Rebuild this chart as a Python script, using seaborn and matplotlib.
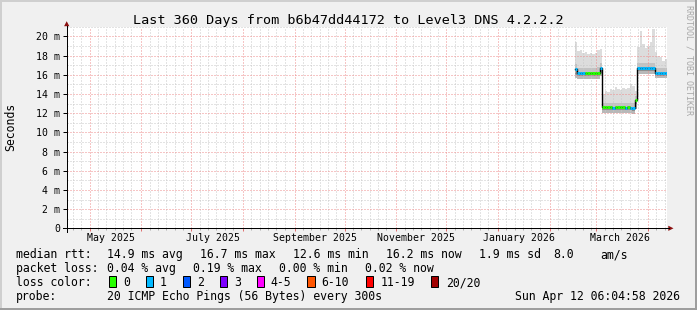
import matplotlib
matplotlib.use("Agg")
import matplotlib.pyplot as plt
from matplotlib.patches import Rectangle, Polygon
import seaborn as sns
import pandas as pd

W, H, DPI = 697, 310, 100
plt.rcParams['font.family'] = ['DejaVu Sans Mono', 'DejaVu Sans']

# ---------------- data ----------------
range_start = "2025-04-17 06:04:58"
range_end = "2026-04-12 06:04:58"
sample_start = "2026-02-16 00:00"
sample_step = "36h"

median_rtt = [16.6, 16.15, 16.15, 16.15, 16.2, 16.2, 16.2, 16.2, 16.2, 16.2, 16.7,
              12.6, 12.6, 12.6, 12.6, 12.55, 12.6, 12.6, 12.6, 12.6, 12.55, 12.6, 12.55, 12.5,
              13.4,
              16.7, 16.7, 16.7, 16.7, 16.7, 16.7, 16.7,
              16.2, 16.2, 16.2, 16.15, 16.15]
loss_count = [1, 1, 1, 1, 0, 0, 0, 0, 0, 0, 1,
              0, 0, 0, 0, 1, 0, 0, 0, 0, 1, 0, 1, 1,
              0,
              1, 1, 1, 1, 1, 1, 1,
              1, 1, 1, 1, 1]
smoke_top = [19.4, 18.5, 18.6, 18.3, 18.4, 18.2, 18.3, 18.2, 18.3, 18.6, 18.7,
             14.0, 14.3, 14.2, 14.5, 14.4, 14.7, 14.5, 14.4, 14.6, 14.5, 14.6, 15.0, 14.8,
             14.3,
             18.9, 20.5, 19.2, 18.8, 19.0, 19.4, 20.8,
             18.4, 18.0, 17.8, 17.4, 17.6]
smoke_hi = [17.1, 16.7, 16.7, 16.7, 16.75, 16.75, 16.75, 16.75, 16.75, 16.8, 17.2,
            13.1, 13.1, 13.1, 13.1, 13.1, 13.1, 13.1, 13.1, 13.1, 13.1, 13.1, 13.1, 13.1,
            13.8,
            17.2, 17.2, 17.2, 17.2, 17.2, 17.2, 17.2,
            16.7, 16.7, 16.7, 16.65, 16.65]
smoke_lo = [16.0, 15.85, 15.85, 15.85, 15.9, 15.9, 15.9, 15.9, 15.9, 15.9, 16.2,
            12.3, 12.3, 12.3, 12.3, 12.3, 12.3, 12.3, 12.3, 12.3, 12.3, 12.3, 12.3, 12.25,
            12.9,
            16.4, 16.4, 16.4, 16.4, 16.4, 16.4, 16.4,
            15.9, 15.9, 15.9, 15.85, 15.85]
smoke_bottom = [15.7, 15.55, 15.55, 15.55, 15.6, 15.6, 15.6, 15.6, 15.6, 15.6, 15.9,
                12.0, 12.0, 12.0, 12.0, 12.0, 12.0, 12.0, 12.0, 12.0, 12.0, 12.0, 12.0, 11.95,
                12.4,
                16.1, 16.1, 16.1, 16.1, 16.1, 16.1, 16.1,
                15.7, 15.7, 15.7, 15.65, 15.65]

y_ticks = [0, 2, 4, 6, 8, 10, 12, 14, 16, 18, 20]
y_tick_labels = ["0", "2 m", "4 m", "6 m", "8 m", "10 m", "12 m", "14 m", "16 m", "18 m", "20 m"]
y_minor = [1, 3, 5, 7, 9, 11, 13, 15, 17, 19, 21]
x_labels = ["May 2025", "July 2025", "September 2025", "November 2025", "January 2026", "March 2026"]
x_label_dates = ["2025-05-14 00:00", "2025-07-14 00:00", "2025-09-13 12:00",
                 "2025-11-13 00:00", "2026-01-13 12:00", "2026-03-15 12:00"]
minor_days = [6, 11, 16, 21, 26]

loss_labels = ["0", "1", "2", "3", "4-5", "6-10", "11-19", "20/20"]
loss_colors = ["#26ff00", "#00b8ff", "#0059ff", "#7e00ff", "#ff00ff", "#ff5500", "#ff0000", "#a10000"]

title = "Last 360 Days from b6b47dd44172 to Level3 DNS 4.2.2.2"
rtt_items = ["median rtt:", "14.9 ms avg", "16.7 ms max", "12.6 ms min", "16.2 ms now",
             "1.9 ms sd", "8.0", "am/s"]
loss_items = ["packet loss:", "0.04 % avg", "0.19 % max", "0.00 % min", "0.02 % now"]
probe_items = ["probe:", "20 ICMP Echo Pings (56 Bytes) every 300s"]
stamp = "Sun Apr 12 06:04:58 2026"
watermark = "RRDTOOL / TOBI OETIKER"

# ---------------- layout helpers (pixels) ----------------
def fx(px):
    return px / W

def fy(py):
    return 1 - py / H

PX = 0.72  # one pixel in points
X0, X1, Y0, Y1 = 66.7, 666.7, 228.3, 26.7

fig = plt.figure(figsize=(W / DPI, H / DPI), dpi=DPI)
fig.patch.set_facecolor("#f0f0f0")
ax = fig.add_axes([fx(X0), fy(Y0), (X1 - X0) / W, (Y0 - Y1) / H])
ax.set_facecolor("white")
for s in ax.spines.values():
    s.set_visible(False)

t_start = pd.Timestamp(range_start)
t_end = pd.Timestamp(range_end)
ax.set_xlim(t_start, t_end)
ax.set_ylim(0, 21)

# ---------------- grid ----------------
dot = (0, (1, 2))
months = pd.date_range("2025-05-01", "2026-04-01", freq="MS")
minor_dates = []
for m in pd.date_range("2025-04-01", "2026-04-01", freq="MS"):
    for d in minor_days:
        t = m + pd.Timedelta(days=d - 1)
        if t_start < t < t_end:
            minor_dates.append(t)
for v in y_minor:
    ax.axhline(v, color="#c8c8c8", lw=PX, ls=dot, zorder=1.5)
for t in minor_dates:
    ax.axvline(t, color="#c8c8c8", lw=PX, ls=dot, zorder=1.5)
for v in y_ticks[1:]:
    ax.axhline(v, color="#ee8c8c", lw=PX, ls=dot, zorder=1.6)
for t in months:
    ax.axvline(t, color="#ee8c8c", lw=PX, ls=dot, zorder=1.6)

# ---------------- smoke ----------------
times = pd.date_range(sample_start, periods=len(median_rtt), freq=sample_step)
t_ext = list(times) + [t_end]

def ext(a):
    return list(a) + [a[-1]]

ax.fill_between(t_ext, ext(smoke_hi), ext(smoke_top), step="post", color="#dcdcdc", lw=0, zorder=1)
ax.fill_between(t_ext, ext(median_rtt), ext(smoke_hi), step="post", color="#c2c2c2", lw=0, zorder=1)
ax.fill_between(t_ext, ext(smoke_lo), ext(median_rtt), step="post", color="#8e8e8e", lw=0, zorder=1)
ax.fill_between(t_ext, ext(smoke_bottom), ext(smoke_lo), step="post", color="#b8b8b8", lw=0, zorder=1)

# ---------------- median line ----------------
df = pd.DataFrame({"time": t_ext, "median": ext(median_rtt)})
sns.lineplot(data=df, x="time", y="median", drawstyle="steps-post", color="black",
             lw=1.0, estimator=None, ax=ax, zorder=3)
for i in range(len(median_rtt)):
    ax.hlines(median_rtt[i], t_ext[i], t_ext[i + 1], colors=loss_colors[loss_count[i]],
              lw=3 * PX, zorder=4, capstyle="butt")
ax.set_xlabel("")
ax.set_ylabel("")

# ---------------- ticks ----------------
ax.set_yticks(y_ticks)
ax.set_yticklabels(y_tick_labels)
ax.tick_params(axis="y", which="major", length=4 * PX, width=PX, color="black",
               pad=1.9, labelsize=7.1)
ax.set_xticks(months)
ax.set_xticks(minor_dates, minor=True)
ax.tick_params(axis="x", which="major", length=3 * PX, width=PX, color="#e07070",
               labelbottom=False)
ax.tick_params(axis="x", which="minor", length=2 * PX, width=PX, color="#b0b0b0",
               labelbottom=False)
for lab, d in zip(x_labels, x_label_dates):
    ax.text(pd.Timestamp(d), 0, lab, transform=ax.get_xaxis_transform(), alpha=0)
    fig.text(0, 0, "")
# place labels at data x, pixel y
import matplotlib.transforms as mtrans
lab_tr = mtrans.blended_transform_factory(ax.transData, fig.transFigure)
for lab, d in zip(x_labels, x_label_dates):
    ax.text(pd.Timestamp(d), fy(241), lab, transform=lab_tr, ha="center", va="baseline",
            size=7.1, clip_on=False)

# ---------------- axes lines and arrows ----------------
fig.add_artist(plt.Line2D([fx(62.7), fx(668.5)], [fy(Y0), fy(Y0)], color="black", lw=PX))
fig.add_artist(plt.Line2D([fx(X0), fx(X0)], [fy(232), fy(25.7)], color="black", lw=PX))
arrow_c = "#8b1010"
fig.add_artist(Polygon([[fx(668.3), fy(Y0 - 2.6)], [fx(668.3), fy(Y0 + 2.6)], [fx(673.5), fy(Y0)]],
                       closed=True, color=arrow_c, lw=0))
fig.add_artist(Polygon([[fx(X0 - 2.6), fy(26.2)], [fx(X0 + 2.6), fy(26.2)], [fx(X0), fy(21.2)]],
                       closed=True, color=arrow_c, lw=0))

# ---------------- texts ----------------
fig.text(fx(348.5), fy(24), title, ha="center", va="baseline", size=9.7)
fig.text(fx(10.5), fy(127), "Seconds", rotation=90, ha="center", va="center", size=8.3)
fig.text(fx(689), fy(5), watermark, rotation=-90, ha="center", va="top", size=6.0,
         color="#a8a8a8")

LS = 8.3
rtt_x = [16, 107, 200, 293, 386, 479, 553, 600]
for s, x in zip(rtt_items, rtt_x):
    fig.text(fx(x), fy(258.4), s, ha="left", va="baseline", size=LS)
loss_x = [16, 107, 193.3, 279.3, 365]
for s, x in zip(loss_items, loss_x):
    fig.text(fx(x), fy(272.4), s, ha="left", va="baseline", size=LS)
fig.text(fx(16), fy(286.4), "loss color:", ha="left", va="baseline", size=LS)
box_x = [108.7, 145.7, 182.7, 219.7, 256.7, 307, 365.7, 430.7]
lab_x = [123, 160, 197, 234, 270.7, 321.7, 380.7, 445.7]
for lab, c, bx, lx in zip(loss_labels, loss_colors, box_x, lab_x):
    fig.add_artist(Rectangle((fx(bx), fy(287)), 7.5 / W, 11.5 / H, facecolor=c,
                             edgecolor="black", lw=PX))
    fig.text(fx(lx), fy(286.4), lab, ha="left", va="baseline", size=LS)
probe_x = [16, 107.3]
for s, x in zip(probe_items, probe_x):
    fig.text(fx(x), fy(300.4), s, ha="left", va="baseline", size=LS)
fig.text(fx(680), fy(300.4), stamp, ha="right", va="baseline", size=LS)

# ---------------- frame ----------------
fig.add_artist(Rectangle((0, fy(2)), 1, 2 / H, color="#cfcfcf", lw=0))
fig.add_artist(Rectangle((0, 0), 2 / W, 1, color="#cfcfcf", lw=0))
fig.add_artist(Rectangle((0, 0), 1, 2 / H, color="#9e9e9e", lw=0))
fig.add_artist(Rectangle((fx(695), 0), 2 / W, 1, color="#9e9e9e", lw=0))

fig.savefig("out.png", dpi=DPI, facecolor=fig.get_facecolor())
